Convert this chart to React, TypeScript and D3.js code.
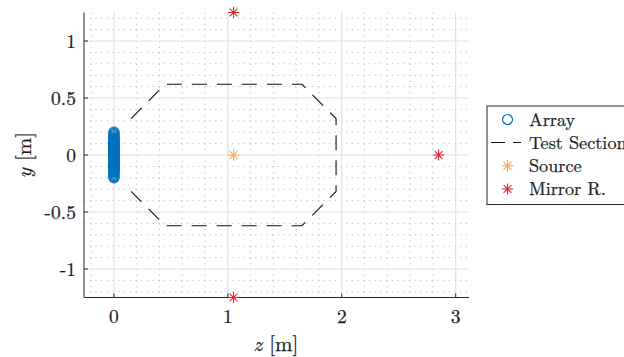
import React from "react";
import * as d3 from "d3";

const W = 624;
const H = 357;

// Data
const arrayZ = 0;
const arrayY = [
  -0.2, -0.19, -0.18, -0.17, -0.16, -0.15, -0.145, -0.14, -0.135, -0.13, -0.125, -0.12,
  -0.115, -0.11, -0.105, -0.1, -0.095, -0.09, -0.085, -0.08, -0.075, -0.07, -0.065, -0.06,
  -0.055, -0.05, -0.045, -0.04, -0.035, -0.03, -0.025, -0.02, -0.015, -0.01, -0.005, 0,
  0.005, 0.01, 0.015, 0.02, 0.025, 0.03, 0.035, 0.04, 0.045, 0.05, 0.055, 0.06, 0.065,
  0.07, 0.075, 0.08, 0.085, 0.09, 0.095, 0.1, 0.105, 0.11, 0.115, 0.12, 0.125, 0.13,
  0.135, 0.14, 0.145, 0.15, 0.16, 0.17, 0.18, 0.19, 0.2,
];
const sectionZ = [0.15, 0.45, 1.65, 1.95, 1.95, 1.65, 0.45, 0.15];
const sectionY = [0.32, 0.62, 0.62, 0.32, -0.32, -0.62, -0.62, -0.32];
const sourceZ = [1.05];
const sourceY = [0];
const mirrorZ = [2.85, 1.05, 1.05];
const mirrorY = [0, 1.25, -1.25];

const xTicks = [0, 1, 2, 3];
const yTicks = [-1, -0.5, 0, 0.5, 1];
const xMinor = [-0.2, 0.2, 0.4, 0.6, 0.8, 1.2, 1.4, 1.6, 1.8, 2.2, 2.4, 2.6, 2.8];
const yMinor = [
  -1.2, -1.1, -0.9, -0.8, -0.7, -0.6, -0.4, -0.3, -0.2, -0.1,
  0.1, 0.2, 0.3, 0.4, 0.6, 0.7, 0.8, 0.9, 1.1, 1.2,
];
const legendLabels = ["Array", "Test Section", "Source", "Mirror R."];

const C_BLUE = "#0072BD";
const C_ORANGE = "#F9A85A";
const C_RED = "#E3262A";
const AX = "#262626";
const FONT = "'Latin Modern Roman', 'Liberation Serif', serif";
const TXT = { fill: "#1e1e1e", stroke: "#1e1e1e", strokeWidth: 0.25 };

const L = 84, R = 469, T = 12.5, B = 297.5;
const x = d3.scaleLinear().domain([-0.263, 3.117]).range([L, R]);
const y = d3.scaleLinear().domain([-1.25, 1.25]).range([B, T]);

function Asterisk({ cx, cy, r, color }: { cx: number; cy: number; r: number; color: string }) {
  const d = r * Math.SQRT1_2;
  return (
    <g stroke={color} strokeWidth={1.1}>
      <line x1={cx - r} y1={cy} x2={cx + r} y2={cy} />
      <line x1={cx} y1={cy - r} x2={cx} y2={cy + r} />
      <line x1={cx - d} y1={cy - d} x2={cx + d} y2={cy + d} />
      <line x1={cx - d} y1={cy + d} x2={cx + d} y2={cy - d} />
    </g>
  );
}

export default function App() {
  const sectionLine = d3
    .line<number>()
    .x((_, i) => x(sectionZ[i]))
    .y((_, i) => y(sectionY[i]));
  const sectionPath = sectionLine(sectionZ) || "";
  const dash = "15,10";

  const legX = 487, legT = 106, legB = 204.5;
  const rowY = [119.5, 142.5, 165.8, 189];

  return (
    <svg width={W} height={H} style={{ position: "absolute", left: 0, top: 0, background: "#fff" }}>
      <rect x={0} y={0} width={W} height={H} fill="#fff" />
      {/* minor grid */}
      {xMinor.map((v) => (
        <line key={"xm" + v} x1={x(v)} x2={x(v)} y1={T} y2={B} stroke="#bdbdbd" strokeWidth={1} strokeDasharray="1.2,4.5" />
      ))}
      {yMinor.map((v) => (
        <line key={"ym" + v} x1={L} x2={R} y1={y(v)} y2={y(v)} stroke="#bdbdbd" strokeWidth={1} strokeDasharray="1.2,4.5" />
      ))}
      {/* major grid */}
      {xTicks.map((v) => (
        <line key={"xg" + v} x1={x(v)} x2={x(v)} y1={T} y2={B} stroke="#e2e2e2" strokeWidth={1.2} />
      ))}
      {yTicks.map((v) => (
        <line key={"yg" + v} x1={L} x2={R} y1={y(v)} y2={y(v)} stroke="#e2e2e2" strokeWidth={1.2} />
      ))}

      {/* axes */}
      <line x1={L} x2={L} y1={T} y2={B} stroke={AX} strokeWidth={1} />
      <line x1={L} x2={R} y1={B} y2={B} stroke={AX} strokeWidth={1} />
      {xTicks.map((v) => (
        <g key={"xt" + v}>
          <line x1={x(v)} x2={x(v)} y1={B} y2={B - 4} stroke={AX} strokeWidth={1} />
          <text x={x(v)} y={323} textAnchor="middle" fontFamily={FONT} fontSize={19.5} {...TXT}>
            {String(v)}
          </text>
        </g>
      ))}
      {yTicks.map((v) => (
        <g key={"yt" + v}>
          <line x1={L} x2={L + 4} y1={y(v)} y2={y(v)} stroke={AX} strokeWidth={1} />
          <text x={76} y={y(v) + 6.5} textAnchor="end" fontFamily={FONT} fontSize={19.5} {...TXT}>
            {String(v)}
          </text>
        </g>
      ))}
      <text x={276} y={351} textAnchor="middle" fontFamily={FONT} fontSize={21} {...TXT}>
        <tspan fontStyle="italic">z</tspan> [m]
      </text>
      <text
        transform={`translate(31,155) rotate(-90)`}
        textAnchor="middle"
        fontFamily={FONT}
        fontSize={21}
        {...TXT}
      >
        <tspan fontStyle="italic">y</tspan> [m]
      </text>

      {/* test section */}
      <path d={sectionPath} fill="none" stroke="#111" strokeWidth={1.1} strokeDasharray={dash} />

      {/* array */}
      {arrayY.map((v, i) => (
        <circle key={"a" + i} cx={x(arrayZ)} cy={y(v)} r={5} fill="none" stroke={C_BLUE} strokeWidth={1.2} />
      ))}

      {/* source */}
      {sourceZ.map((v, i) => (
        <Asterisk key={"s" + i} cx={x(v)} cy={y(sourceY[i])} r={5.8} color={C_ORANGE} />
      ))}
      {/* mirrors */}
      {mirrorZ.map((v, i) => (
        <Asterisk key={"m" + i} cx={x(v)} cy={y(mirrorY[i])} r={5.5} color={C_RED} />
      ))}

      {/* legend */}
      <rect x={legX} y={legT} width={160} height={legB - legT} fill="#fff" stroke={AX} strokeWidth={1} />
      <circle cx={507.5} cy={rowY[0]} r={5} fill="none" stroke={C_BLUE} strokeWidth={1.2} />
      <line x1={491} x2={521} y1={rowY[1]} y2={rowY[1]} stroke="#111" strokeWidth={1.1} strokeDasharray="14,8" />
      <Asterisk cx={507.5} cy={rowY[2]} r={5.8} color={C_ORANGE} />
      <Asterisk cx={507.5} cy={rowY[3]} r={5.5} color={C_RED} />
      {legendLabels.map((t, i) => (
        <text key={t} x={529} y={rowY[i] + 6} fontFamily={FONT} fontSize={18.2} {...TXT}>
          {t}
        </text>
      ))}
    </svg>
  );
}
